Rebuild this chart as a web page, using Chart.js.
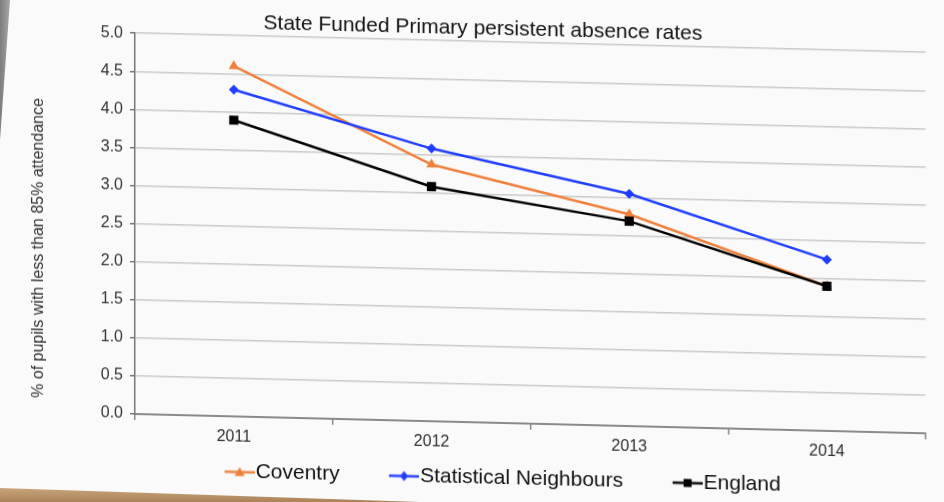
<!DOCTYPE html>
<html>
<head>
<meta charset="utf-8">
<script src="https://cdn.jsdelivr.net/npm/chart.js@4/dist/chart.umd.min.js"></script>
<style>
  html, body { margin: 0; padding: 0; }
  body { width: 944px; height: 502px; overflow: hidden; background: #fafafa; position: relative; }
  #wrap { position: absolute; left: 0; top: 0; width: 944px; height: 502px; transform: skewY(1.4deg); transform-origin: 135px 0; }
  .edge { position: absolute; }
  #spine { left: 0; top: 0; width: 10px; height: 140px; background: linear-gradient(90deg, #7d7d7d, #a8a8a8); clip-path: polygon(0 0, 100% 0, 0 100%); }
  #desk { left: 0; top: 488px; width: 420px; height: 14px; background: linear-gradient(180deg, #c9a47c, #a98258); clip-path: polygon(0 0, 100% 100%, 0 100%); }
</style>
</head>
<body>
<div id="wrap"><canvas id="chart" width="944" height="502"></canvas></div>
<div class="edge" id="spine"></div>
<div class="edge" id="desk"></div>
<script>
const years = ['2011', '2012', '2013', '2014'];
const coventry = [4.6, 3.37, 2.78, 1.9];
const neighbours = [4.29, 3.58, 3.05, 2.25];
const england = [3.89, 3.08, 2.69, 1.9];

const FONT = '"Liberation Sans", Arial, sans-serif';
const ORANGE = '#ef7f3a';
const BLUE = '#1f3cff';
const BLACK = '#000000';

// legend keys: short line with the series marker, drawn right-aligned in a wider box
const ICON_BOX = 60;
function legendIcon (color, shape) {
  const c = document.createElement('canvas');
  c.width = ICON_BOX + 19;
  c.height = 14;
  const g = c.getContext('2d');
  const x0 = c.width - 30;
  const cy = 7;
  const cx = x0 + 15;
  g.strokeStyle = color;
  g.lineWidth = 2.5;
  g.beginPath();
  g.moveTo(x0, cy);
  g.lineTo(c.width, cy);
  g.stroke();
  g.fillStyle = color;
  g.beginPath();
  if (shape === 'triangle') {
    g.moveTo(cx, cy - 5); g.lineTo(cx + 5, cy + 4); g.lineTo(cx - 5, cy + 4);
  } else if (shape === 'rectRot') {
    g.moveTo(cx, cy - 5); g.lineTo(cx + 4, cy); g.lineTo(cx, cy + 5); g.lineTo(cx - 4, cy);
  } else {
    g.rect(cx - 4, cy - 4, 8, 8);
  }
  g.closePath();
  g.fill();
  return c;
}

const icons = [
  legendIcon(ORANGE, 'triangle'),
  legendIcon(BLUE, 'rectRot'),
  legendIcon(BLACK, 'rect')
];

function series (label, data, color, shape, radius, order) {
  return {
    label,
    data,
    borderColor: color,
    backgroundColor: color,
    pointBackgroundColor: color,
    pointBorderColor: color,
    pointBorderWidth: 0,
    pointStyle: shape,
    pointRadius: radius,
    borderWidth: 2.5,
    tension: 0,
    order
  };
}

const chart = new Chart(document.getElementById('chart'), {
  type: 'line',
  data: {
    labels: years,
    datasets: [
      series('Coventry', coventry, ORANGE, 'triangle', 6, 2),
      series('Statistical Neighbours', neighbours, BLUE, 'rectRot', 5, 1),
      series('England', england, BLACK, 'rect', 6.5, 0)
    ]
  },
  options: {
    responsive: false,
    animation: false,
    devicePixelRatio: 1,
    layout: { padding: { left: 40, right: 18, top: 0, bottom: 12 } },
    plugins: {
      tooltip: { enabled: false },
      title: {
        display: true,
        text: 'State Funded Primary persistent absence rates',
        color: '#111',
        font: { family: FONT, size: 21, weight: 'normal' },
        padding: { top: 8, bottom: 0 }
      },
      legend: {
        position: 'bottom',
        labels: {
          usePointStyle: true,
          pointStyleWidth: ICON_BOX,
          padding: 10,
          color: '#111',
          font: { family: FONT, size: 21 },
          generateLabels: (c) => c.data.datasets.map((ds, i) => ({
            text: ds.label,
            pointStyle: icons[i],
            fillStyle: 'transparent',
            strokeStyle: 'transparent',
            lineWidth: 0,
            fontColor: '#111',
            hidden: false,
            datasetIndex: i
          }))
        }
      }
    },
    scales: {
      x: {
        offset: true,
        grid: { offset: true, drawOnChartArea: false, tickLength: 6, color: '#888', lineWidth: 1.5 },
        border: { color: '#8a8a8a', width: 2 },
        ticks: { color: '#2e2e2e', font: { family: FONT, size: 16 }, padding: 5 },
        afterFit: (s) => { s.height = 35 }
      },
      y: {
        min: 0,
        max: 5,
        ticks: {
          stepSize: 0.5,
          padding: 7,
          color: '#333',
          font: { family: FONT, size: 16 },
          callback: (v) => Number(v).toFixed(1)
        },
        grid: { color: '#cacaca', lineWidth: 1.5, tickLength: 5, tickColor: '#777' },
        border: { color: '#777', width: 1.5 },
        title: {
          display: true,
          // trailing spaces push the rotated label down towards the axis foot
          text: '% of pupils with less than 85% attendance            ',
          color: '#333',
          font: { family: FONT, size: 16 },
          padding: { top: -11, bottom: 0 }
        },
        afterFit: (s) => { s.width = 95 }
      }
    }
  }
});
</script>
</body>
</html>
